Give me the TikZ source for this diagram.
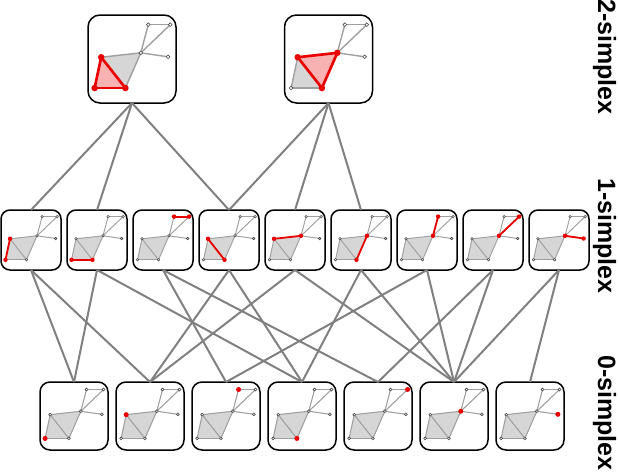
\documentclass[tikz,border=0pt]{standalone}
\usepackage{fontspec}
\setmainfont{Liberation Sans}
\definecolor{edgec}{RGB}{160,160,160}
\definecolor{trifillc}{RGB}{214,214,214}
\definecolor{vertc}{RGB}{70,70,70}
\definecolor{redc}{RGB}{235,0,0}
\definecolor{redfillc}{RGB}{248,178,178}
\definecolor{connc}{RGB}{128,128,128}
\tikzset{
  box/.style={draw=black, line width=1.5pt, fill=white, inner sep=0pt, outer sep=0pt},
  conn/.style={draw=connc, line width=2pt},
  lab/.style={rotate=-90, anchor=base, font=\bfseries\fontsize{25}{30}\selectfont, inner sep=0pt},
}
% #1 box name, #2 size, #3 red triangle (u/v/w or empty), #4 red edges, #5 red vertices
\newcommand\mg[5]{%
  \pgfmathsetmacro\mgw{0.016*#2}%
  \pgfmathsetmacro\mgrw{0.03*#2}%
  \begin{scope}[shift={(#1.north west)}, x=#2pt, y=-#2pt]
    \coordinate (#1-A) at (0.075,0.83);
    \coordinate (#1-B) at (0.15,0.48);
    \coordinate (#1-C) at (0.425,0.83);
    \coordinate (#1-D) at (0.6,0.43);
    \coordinate (#1-E) at (0.685,0.11);
    \coordinate (#1-F) at (0.935,0.11);
    \coordinate (#1-G) at (0.91,0.475);
    \fill[trifillc] (#1-A)--(#1-B)--(#1-C)--cycle (#1-B)--(#1-C)--(#1-D)--cycle;
    \def\mgtmp{#3}\ifx\mgtmp\empty\else
      \foreach \u/\v/\w in {#3}{\fill[redfillc] (#1-\u)--(#1-\v)--(#1-\w)--cycle;}\fi
    \foreach \u/\v in {A/B,A/C,B/C,B/D,C/D,D/E,D/F,E/F,D/G}
      {\draw[edgec, line width=\mgw pt] (#1-\u)--(#1-\v);}
    \def\mgtmp{#4}\ifx\mgtmp\empty\else
      \foreach \u/\v in {#4}{\draw[redc, line width=\mgrw pt, line cap=round] (#1-\u)--(#1-\v);}\fi
    \foreach \u in {A,B,C,D,E,F,G}
      {\filldraw[fill=white, draw=vertc, line width=0.6pt] (#1-\u) circle[radius=0.021];}
    \def\mgtmp{#5}\ifx\mgtmp\empty\else
      \foreach \u in {#5}{\fill[redc] (#1-\u) circle[radius=0.037];}\fi
  \end{scope}}
\begin{document}
\begin{tikzpicture}[x=1pt,y=-1pt]
\useasboundingbox (0,0) rectangle (620,474);
% boxes
\node[box, minimum size=88pt, rounded corners=12pt] (t1) at (132,59) {};
\node[box, minimum size=88pt, rounded corners=12pt] (t2) at (328.5,59) {};
\foreach \i in {1,...,9}
  \node[box, minimum size=60pt, rounded corners=9pt] (m\i) at ({31+66*(\i-1)},240) {};
\foreach \j in {1,...,7}
  \node[box, minimum size=68pt, rounded corners=10pt] (b\j) at ({74+76*(\j-1)},416) {};
% connectors
\foreach \a/\b in {t1/m1,t1/m2,t1/m4,t2/m4,t2/m5,t2/m6,
  m1/b1,m1/b2,m2/b1,m2/b4,m3/b3,m3/b5,m4/b2,m4/b4,m5/b2,m5/b6,
  m6/b4,m6/b6,m7/b3,m7/b6,m8/b5,m8/b6,m9/b6,m9/b7}
  \draw[conn] (\a.south) -- (\b.north);
% mini graphs
\mg{t1}{88}{A/B/C}{A/B,A/C,B/C}{A,B,C}
\mg{t2}{88}{B/C/D}{B/C,B/D,C/D}{B,C,D}
\mg{m1}{60}{}{A/B}{A,B}
\mg{m2}{60}{}{A/C}{A,C}
\mg{m3}{60}{}{E/F}{E,F}
\mg{m4}{60}{}{B/C}{B,C}
\mg{m5}{60}{}{B/D}{B,D}
\mg{m6}{60}{}{C/D}{C,D}
\mg{m7}{60}{}{D/E}{D,E}
\mg{m8}{60}{}{D/F}{D,F}
\mg{m9}{60}{}{D/G}{D,G}
\mg{b1}{68}{}{}{A}
\mg{b2}{68}{}{}{B}
\mg{b3}{68}{}{}{E}
\mg{b4}{68}{}{}{C}
\mg{b5}{68}{}{}{F}
\mg{b6}{68}{}{}{D}
\mg{b7}{68}{}{}{G}
% labels
\node[lab] (l2) at (598,57) {2-simplex};
\node[lab] (l1) at (598,236) {1-simplex};
\node[lab] (l0) at (598,413) {0-simplex};
\end{tikzpicture}
\end{document}
